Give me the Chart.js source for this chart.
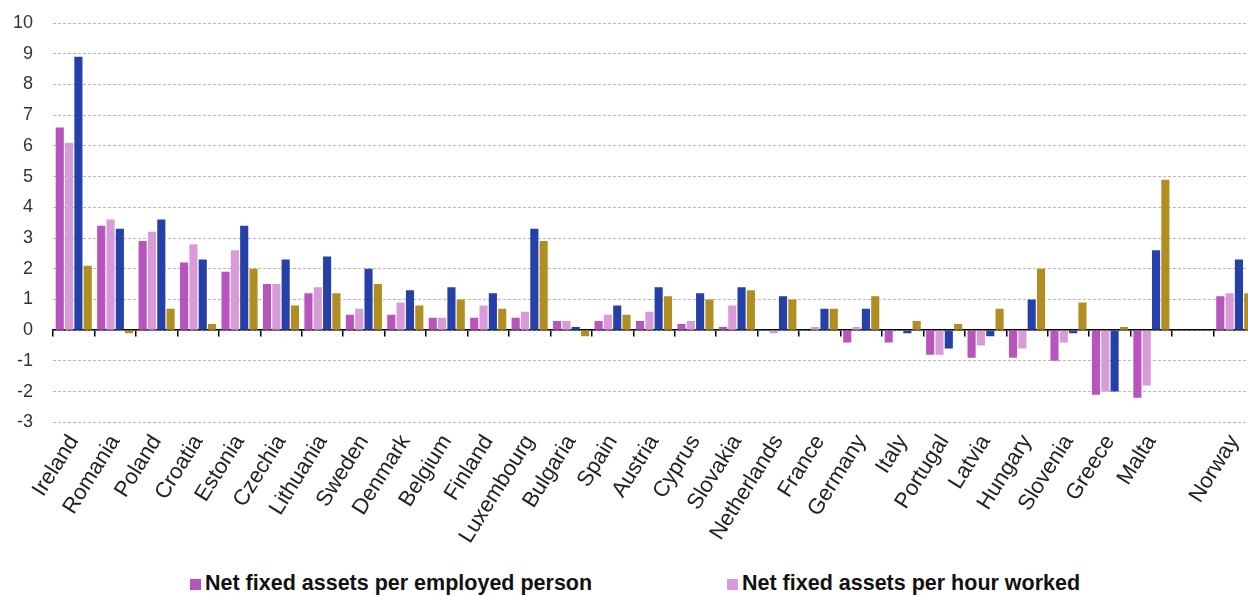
<!DOCTYPE html>
<html>
<head>
<meta charset="utf-8">
<script src="https://cdn.jsdelivr.net/npm/chart.js@4"></script>
<style>
  html, body { margin: 0; padding: 0; background: #fff; overflow: hidden; }
  #wrap { position: relative; width: 1255px; height: 548px; }
  #legend {
    position: absolute; top: 573px; left: 0; width: 1248px;
    font: bold 21.5px "Liberation Sans", Arial, sans-serif; color: #111; line-height: 1;
  }
  .item { position: absolute; white-space: nowrap; }
  .box { display: inline-block; width: 11px; height: 11px; margin-right: 4px; }
</style>
</head>
<body>
<div id="wrap"><canvas id="chart"></canvas></div>
<div id="legend"></div>
<script>
// Countries (blank slot keeps Norway apart from the EU group)
const countries = ["Ireland", "Romania", "Poland", "Croatia", "Estonia", "Czechia", "Lithuania",
  "Sweden", "Denmark", "Belgium", "Finland", "Luxembourg", "Bulgaria", "Spain", "Austria",
  "Cyprus", "Slovakia", "Netherlands", "France", "Germany", "Italy", "Portugal", "Latvia",
  "Hungary", "Slovenia", "Greece", "Malta", "", "Norway"];

const perEmployed = [6.6, 3.4, 2.9, 2.2, 1.9, 1.5, 1.2, 0.5, 0.5, 0.4, 0.4, 0.4, 0.3, 0.3, 0.3,
  0.2, 0.1, 0.0, 0.0, -0.4, -0.4, -0.8, -0.9, -0.9, -1.0, -2.1, -2.2, null, 1.1];
const perHour = [6.1, 3.6, 3.2, 2.8, 2.6, 1.5, 1.4, 0.7, 0.9, 0.4, 0.8, 0.6, 0.3, 0.5, 0.6,
  0.3, 0.8, -0.1, 0.1, 0.1, 0.0, -0.8, -0.5, -0.6, -0.4, -2.0, -1.8, null, 1.2];
const seriesThree = [8.9, 3.3, 3.6, 2.3, 3.4, 2.3, 2.4, 2.0, 1.3, 1.4, 1.2, 3.3, 0.1, 0.8, 1.4,
  1.2, 1.4, 1.1, 0.7, 0.7, -0.1, -0.6, -0.2, 1.0, -0.1, -2.0, 2.6, null, 2.3];
const seriesFour = [2.1, -0.1, 0.7, 0.2, 2.0, 0.8, 1.2, 1.5, 0.8, 1.0, 0.7, 2.9, -0.2, 0.5, 1.1,
  1.0, 1.3, 1.0, 0.7, 1.1, 0.3, 0.2, 0.7, 2.0, 0.9, 0.1, 4.9, null, 1.2];

const yTicks = [-3, -2, -1, 0, 1, 2, 3, 4, 5, 6, 7, 8, 9, 10];

const labels = ["Net fixed assets per employed person", "Net fixed assets per hour worked",
  "Series 3", "Series 4"];
const colors = ["#b754bd", "#d89bd8", "#2541a9", "#b08e22"];
const values = [perEmployed, perHour, seriesThree, seriesFour];

const font = "'Liberation Sans', Arial, sans-serif";

new Chart(document.getElementById("chart"), {
  type: "bar",
  data: {
    labels: countries,
    datasets: values.map((v, i) => ({
      label: labels[i],
      data: v,
      backgroundColor: colors[i],
      borderWidth: 0,
      categoryPercentage: 0.9,
      barPercentage: 0.87
    }))
  },
  options: {
    responsive: true,
    maintainAspectRatio: false,
    animation: false,
    layout: { autoPadding: false, padding: { left: -7, top: 23, right: 0, bottom: 0 } },
    plugins: { legend: { display: false }, tooltip: { enabled: false } },
    scales: {
      x: {
        grid: { display: false },
        border: { display: false },
        // let the rotated labels hang under the y axis instead of pushing the plot right
        afterFit: s => { s.paddingLeft = 0; s.paddingRight = 0; },
        ticks: {
          font: { family: font, size: 22 },
          color: "#222",
          minRotation: 58,
          maxRotation: 58,
          autoSkip: false,
          padding: 0
        }
      },
      // zero line with category tick marks
      x2: {
        position: { y: 0 },
        labels: countries,
        offset: true,
        grid: { drawOnChartArea: false, drawTicks: true, tickLength: 6, color: "#000", offset: true, lineWidth: 1.5 },
        border: { display: true, color: "#000", width: 1.5 },
        ticks: { display: false }
      },
      y: {
        min: -3,
        max: 10,
        afterBuildTicks: axis => { axis.ticks = yTicks.map(v => ({ value: v })); },
        afterFit: s => { s.paddingTop = 0; s.paddingBottom = 0; },
        grid: { color: "#b8b8b8", drawTicks: false, lineWidth: 1 },
        border: { display: false, dash: [3, 2] },
        ticks: {
          font: { family: font, size: 18 },
          color: "#333",
          padding: 20
        }
      }
    }
  }
});

// Legend for the first two series
const legend = document.getElementById("legend");
const legendX = [190, 727];
[0, 1].forEach(i => {
  const el = document.createElement("span");
  el.className = "item";
  el.style.left = legendX[i] + "px";
  el.innerHTML = '<span class="box" style="background:' + colors[i] + '"></span>' + labels[i];
  legend.appendChild(el);
});
</script>
</body>
</html>
